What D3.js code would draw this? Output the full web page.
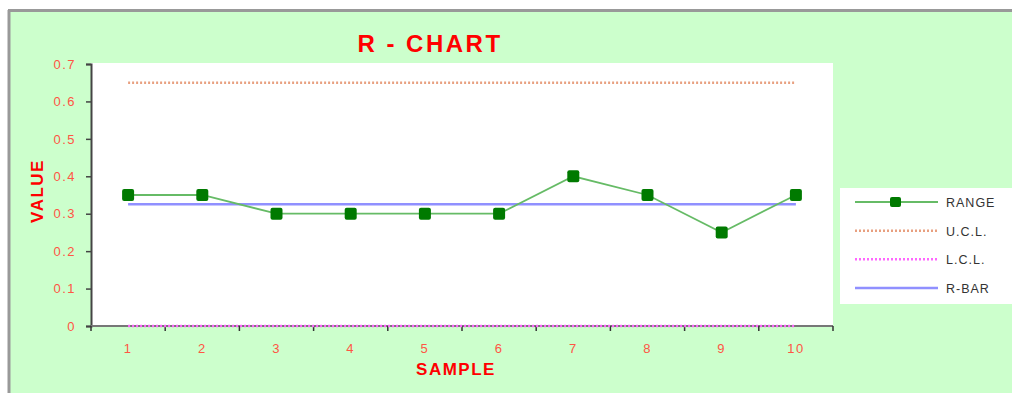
<!DOCTYPE html>
<html>
<head>
<meta charset="utf-8">
<script src="https://cdn.jsdelivr.net/npm/d3@7"></script>
<style>
  html, body { margin: 0; padding: 0; background: #ffffff; }
  svg { display: block; font-family: "Liberation Sans", Arial, sans-serif; }
</style>
</head>
<body>
<svg id="chart" width="1012" height="393"></svg>
<script>
// R-chart data: sample numbers, ranges and control limits
const samples = ["1", "2", "3", "4", "5", "6", "7", "8", "9", "10"];
const ranges = [0.35, 0.35, 0.30, 0.30, 0.30, 0.30, 0.40, 0.35, 0.25, 0.35];
const ucl = [0.65, 0.65, 0.65, 0.65, 0.65, 0.65, 0.65, 0.65, 0.65, 0.65];
const lcl = [0, 0, 0, 0, 0, 0, 0, 0, 0, 0];
const rbar = [0.325, 0.325, 0.325, 0.325, 0.325, 0.325, 0.325, 0.325, 0.325, 0.325];
const yTicks = [0, 0.1, 0.2, 0.3, 0.4, 0.5, 0.6, 0.7];
const legendLabels = ["RANGE", "U.C.L.", "L.C.L.", "R-BAR"];

const svg = d3.select("#chart");
const labelRed = "#ff5544";

// chart frame
svg.append("rect").attr("x", 8).attr("y", 10).attr("width", 1004).attr("height", 383).attr("fill", "#ccffcc");
svg.append("line").attr("x1", 8).attr("x2", 1012).attr("y1", 10.5).attr("y2", 10.5).attr("stroke", "#999999").attr("stroke-width", 3);
svg.append("line").attr("x1", 9).attr("x2", 9).attr("y1", 10).attr("y2", 393).attr("stroke", "#999999").attr("stroke-width", 3);

const plot = { left: 91, right: 833, top: 63, bottom: 326 };
svg.append("rect").attr("x", plot.left).attr("y", plot.top)
  .attr("width", plot.right - plot.left).attr("height", plot.bottom - plot.top).attr("fill", "#ffffff");

const x = d3.scaleBand().domain(samples).range([plot.left, plot.right]);
const y = d3.scaleLinear().domain([0, 0.7]).range([plot.bottom, 64]);
const cx = d => x(d) + x.bandwidth() / 2;

// series lines
const lineOf = vals => d3.line().x((d, i) => cx(samples[i])).y(d => y(d))(vals);

svg.append("path").attr("d", lineOf(ucl)).attr("fill", "none")
  .attr("stroke", "#e8a080").attr("stroke-width", 2.5).attr("stroke-dasharray", "2,2");
svg.append("path").attr("d", lineOf(rbar)).attr("fill", "none")
  .attr("stroke", "#9090ff").attr("stroke-width", 2.5);

// axes
const yAxis = svg.append("g").attr("transform", `translate(${plot.left},0)`)
  .call(d3.axisLeft(y).tickValues(yTicks).tickSize(5).tickPadding(10)
    .tickFormat(d => d === 0 ? "0" : d3.format(".1f")(d)));
yAxis.select(".domain").attr("stroke", "#444444").attr("stroke-width", 2);
yAxis.selectAll(".tick line").attr("stroke", "#444444").attr("stroke-width", 1.5);
yAxis.selectAll(".tick text").attr("fill", labelRed).attr("font-size", 13)
  .attr("letter-spacing", 1.5).attr("font-family", "Liberation Sans, Arial, sans-serif");

const boundaries = samples.map(s => x(s)).concat([plot.right]);
const xAxis = svg.append("g").attr("transform", `translate(0,${plot.bottom})`);
xAxis.append("line").attr("x1", plot.left).attr("x2", plot.right).attr("y1", 0).attr("y2", 0)
  .attr("stroke", "#777777").attr("stroke-width", 2);
xAxis.selectAll("line.tk").data(boundaries).enter().append("line").attr("class", "tk")
  .attr("x1", d => d).attr("x2", d => d).attr("y1", 0).attr("y2", 5)
  .attr("stroke", "#333333").attr("stroke-width", 1.5);
xAxis.selectAll("text").data(samples).enter().append("text")
  .attr("x", d => cx(d)).attr("y", 27).attr("text-anchor", "middle")
  .attr("fill", labelRed).attr("font-size", 13).attr("letter-spacing", 1.5).text(d => d);

svg.append("path").attr("d", lineOf(lcl)).attr("fill", "none")
  .attr("stroke", "#ff66ff").attr("stroke-width", 2.5).attr("stroke-dasharray", "2,2");

// range series with square markers
svg.append("path").attr("d", lineOf(ranges)).attr("fill", "none")
  .attr("stroke", "#66bb66").attr("stroke-width", 1.8);
svg.selectAll("rect.mk").data(ranges).enter().append("rect").attr("class", "mk")
  .attr("x", (d, i) => cx(samples[i]) - 6).attr("y", d => y(d) - 6)
  .attr("width", 12).attr("height", 12).attr("rx", 2).attr("fill", "#007a00");

// titles
svg.append("text").attr("x", 430).attr("y", 52).attr("text-anchor", "middle")
  .attr("fill", "#ff0000").attr("font-size", 24).attr("letter-spacing", 2.5)
  .attr("font-weight", "bold").text("R - CHART");
svg.append("text").attr("x", 456).attr("y", 375).attr("text-anchor", "middle")
  .attr("fill", "#ff0000").attr("font-size", 17).attr("letter-spacing", 1.5)
  .attr("font-weight", "bold").text("SAMPLE");
svg.append("text").attr("transform", "translate(43,191) rotate(-90)").attr("text-anchor", "middle")
  .attr("fill", "#ff0000").attr("font-size", 17).attr("letter-spacing", 1.5)
  .attr("font-weight", "bold").text("VALUE");

// legend
const lg = svg.append("g");
lg.append("rect").attr("x", 840).attr("y", 188).attr("width", 172).attr("height", 116).attr("fill", "#ffffff");
const legendY = d3.scalePoint().domain(legendLabels).range([202, 288]);
const styles = {
  "RANGE": { stroke: "#66bb66", width: 1.8, dash: null },
  "U.C.L.": { stroke: "#e8a080", width: 2.5, dash: "2,2" },
  "L.C.L.": { stroke: "#ff66ff", width: 2.5, dash: "2,2" },
  "R-BAR": { stroke: "#9090ff", width: 2.5, dash: null }
};
legendLabels.forEach(lbl => {
  const ly = legendY(lbl);
  const s = styles[lbl];
  lg.append("line").attr("x1", 855).attr("x2", 938).attr("y1", ly).attr("y2", ly)
    .attr("stroke", s.stroke).attr("stroke-width", s.width).attr("stroke-dasharray", s.dash);
  if (lbl === "RANGE") {
    lg.append("rect").attr("x", 890).attr("y", ly - 5).attr("width", 11).attr("height", 10)
      .attr("rx", 2).attr("fill", "#007a00");
  }
  lg.append("text").attr("x", 946).attr("y", ly + 5).attr("fill", "#333333")
    .attr("font-size", 12.5).attr("letter-spacing", 1).text(lbl);
});
</script>
</body>
</html>
